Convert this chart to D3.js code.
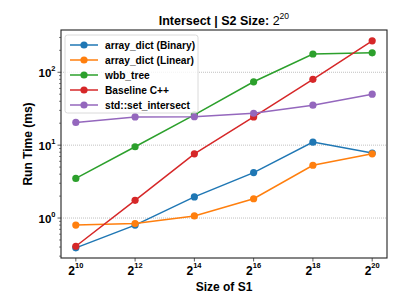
<!DOCTYPE html>
<html>
<head>
<meta charset="utf-8">
<script src="https://cdn.jsdelivr.net/npm/d3@7"></script>
<style>
  body { margin: 0; background: #fff; }
  text { font-family: "Liberation Sans", Arial, Helvetica, sans-serif; font-weight: bold; }
</style>
</head>
<body>
<script>
// S1 sizes as powers of two
var exponents = [10, 12, 14, 16, 18, 20];

var seriesNames = ["array_dict (Binary)", "array_dict (Linear)", "wbb_tree", "Baseline C++", "std::set_intersect"];
var colors = ["#1f77b4", "#ff7f0e", "#2ca02c", "#d62728", "#9467bd"];

// run time in ms
var binaryVals = [0.39, 0.80, 1.95, 4.2, 11.0, 7.8];
var linearVals = [0.80, 0.84, 1.07, 1.84, 5.3, 7.6];
var wbbVals = [3.5, 9.5, 26, 74, 178, 185];
var baselineVals = [0.41, 1.75, 7.6, 24.4, 80, 270];
var stdVals = [20.5, 24.4, 24.6, 27.4, 35.3, 50];

var yTicks = [1, 10, 100];

var series = [binaryVals, linearVals, wbbVals, baselineVals, stdVals];

var width = 407, height = 305;
var margin = { top: 30, right: 20, bottom: 47, left: 61 };
var w = width - margin.left - margin.right,
    h = height - margin.top - margin.bottom;

var svg = d3.select("body")
    .append("svg")
    .attr("width", width)
    .attr("height", height);

var g = svg.append("g")
    .attr("transform", "translate(" + margin.left + "," + margin.top + ")");

var x = d3.scaleLinear()
    .domain([9.5, 20.5])
    .range([0, w]);

var y = d3.scaleLog()
    .domain([0.283, 380])
    .range([h, 0]);

// grid lines at decades
g.selectAll(".grid")
    .data(yTicks)
    .enter()
    .append("line")
    .attr("x1", 0)
    .attr("x2", w)
    .attr("y1", function (d) { return y(d); })
    .attr("y2", function (d) { return y(d); })
    .attr("stroke", "#b0b0b0")
    .attr("stroke-width", 0.8)
    .attr("stroke-dasharray", "1,1");

// minor ticks on y
var minor = [];
[0.1, 1, 10, 100].forEach(function (dec) {
    for (var k = 2; k <= 9; k++) {
        var v = dec * k;
        if (v > y.domain()[0] && v < y.domain()[1]) minor.push(v);
    }
});
g.selectAll(".minor")
    .data(minor)
    .enter()
    .append("line")
    .attr("x1", -2)
    .attr("x2", 0)
    .attr("y1", function (d) { return y(d); })
    .attr("y2", function (d) { return y(d); })
    .attr("stroke", "#333")
    .attr("stroke-width", 0.6);

// major y ticks
var yt = g.selectAll(".ytick")
    .data(yTicks)
    .enter()
    .append("g")
    .attr("transform", function (d) { return "translate(0," + y(d) + ")"; });
yt.append("line")
    .attr("x1", -3.5)
    .attr("x2", 0)
    .attr("stroke", "#333")
    .attr("stroke-width", 0.8);
var ytText = yt.append("text")
    .attr("x", -5.5)
    .attr("y", 4.5)
    .attr("text-anchor", "end")
    .style("font-size", "11.5px");
ytText.append("tspan").text("10");
ytText.append("tspan")
    .attr("dy", -6)
    .style("font-size", "7.5px")
    .text(function (d) { return Math.round(Math.log10(d)); });
ytText.each(function () {
    // shift so the whole label ends before the tick
    var bb = this.getBBox();
    d3.select(this).attr("text-anchor", "start").attr("x", -5.5 - bb.width);
});

// x ticks
var xt = g.selectAll(".xtick")
    .data(exponents)
    .enter()
    .append("g")
    .attr("transform", function (d) { return "translate(" + x(d) + "," + h + ")"; });
xt.append("line")
    .attr("y1", 0)
    .attr("y2", 3.5)
    .attr("stroke", "#333")
    .attr("stroke-width", 0.8);
var xtText = xt.append("text")
    .attr("y", 17)
    .style("font-size", "12px");
xtText.append("tspan").text("2");
xtText.append("tspan")
    .attr("dy", -7)
    .style("font-size", "7.5px")
    .text(function (d) { return d; });
xtText.each(function () {
    var bb = this.getBBox();
    d3.select(this).attr("x", -bb.width / 2);
});

// lines
var line = d3.line()
    .x(function (d, i) { return x(exponents[i]); })
    .y(function (d) { return y(d); });

series.forEach(function (vals, si) {
    g.append("path")
        .datum(vals)
        .attr("d", line)
        .attr("fill", "none")
        .attr("stroke", colors[si])
        .attr("stroke-width", 1.5);
    g.selectAll(".pt" + si)
        .data(vals)
        .enter()
        .append("circle")
        .attr("cx", function (d, i) { return x(exponents[i]); })
        .attr("cy", function (d) { return y(d); })
        .attr("r", 3.6)
        .attr("fill", colors[si]);
});

// frame
g.append("rect")
    .attr("x", 0)
    .attr("y", 0)
    .attr("width", w)
    .attr("height", h)
    .attr("fill", "none")
    .attr("stroke", "#222")
    .attr("stroke-width", 1.1);

// legend
var lg = g.append("g").attr("transform", "translate(4,5)");
lg.append("rect")
    .attr("width", 133)
    .attr("height", 78)
    .attr("rx", 2.5)
    .attr("fill", "#fff")
    .attr("fill-opacity", 0.8)
    .attr("stroke", "#d0d0d0")
    .attr("stroke-width", 0.8);
var row = lg.selectAll(".row")
    .data(seriesNames)
    .enter()
    .append("g")
    .attr("transform", function (d, i) { return "translate(0," + (10 + i * 15) + ")"; });
row.append("line")
    .attr("x1", 5)
    .attr("x2", 33)
    .attr("stroke", function (d, i) { return colors[i]; })
    .attr("stroke-width", 1.5);
row.append("circle")
    .attr("cx", 19)
    .attr("r", 3.6)
    .attr("fill", function (d, i) { return colors[i]; });
row.append("text")
    .attr("x", 40)
    .attr("y", 3.8)
    .style("font-size", "10.2px")
    .text(function (d) { return d; });

// title
var title = svg.append("text")
    .attr("y", 25)
    .style("font-size", "12.5px");
title.append("tspan").text("Intersect | S2 Size: ");
title.append("tspan").style("font-weight", "normal").text("2");
title.append("tspan")
    .attr("dy", -6)
    .style("font-weight", "normal")
    .style("font-size", "8.5px")
    .text("20");
var tb = title.node().getBBox();
title.attr("x", margin.left + w / 2 - tb.width / 2);

// X label
svg.append("text")
    .attr("x", margin.left + w / 2)
    .attr("y", 291)
    .attr("text-anchor", "middle")
    .style("font-size", "12px")
    .text("Size of S1");

// Y label
svg.append("text")
    .attr("text-anchor", "middle")
    .attr("transform", "translate(32," + (margin.top + h / 2) + ")rotate(-90)")
    .style("font-size", "12px")
    .text("Run Time (ms)");
</script>
</body>
</html>
